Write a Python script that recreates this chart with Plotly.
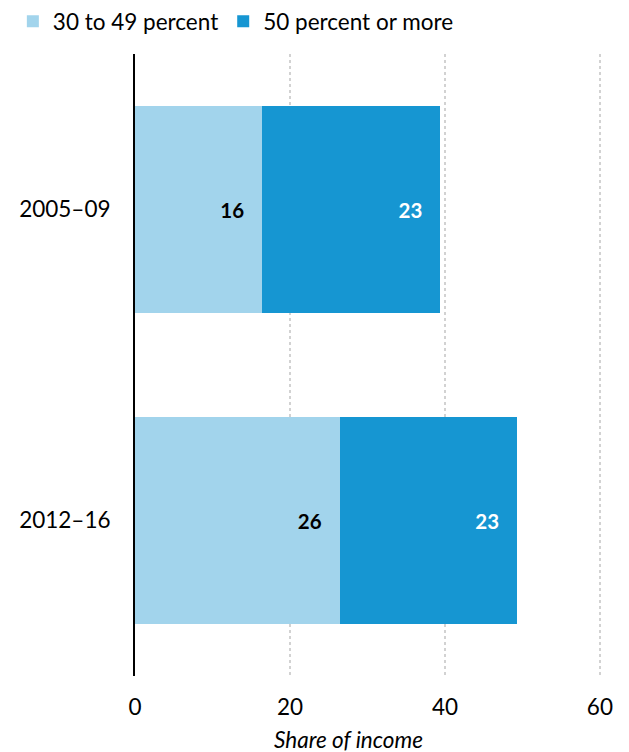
import plotly.graph_objects as go

categories = ["2005–09", "2012–16"]
series_names = ["30 to 49 percent", "50 percent or more"]
share_30_49 = [16.4, 26.4]
share_50_plus = [23.0, 22.9]
x_ticks = [0, 20, 40, 60]
x_title = "Share of income"

colors = ["#a2d4ec", "#1696d2"]
text_colors = ["#000000", "#ffffff"]
FONT = "Lato, 'Open Sans', sans-serif"
PAD = "\u00a0\u00a0\u00a0"

fig = go.Figure()
for name, vals, col, tcol in zip(series_names, [share_30_49, share_50_plus], colors, text_colors):
    fig.add_trace(go.Bar(
        y=categories, x=vals, name=name, orientation="h",
        marker=dict(color=col, line=dict(width=0)),
        text=[f"{v:.0f}{PAD}" for v in vals],
        textposition="inside", insidetextanchor="end",
        textfont=dict(family=FONT, size=20.5, color=tcol, weight="bold"),
        cliponaxis=False,
    ))

fig.update_layout(
    barmode="stack",
    bargap=0.333,
    width=621, height=744,
    margin=dict(l=127, r=26, t=46, b=75.5, autoexpand=False),
    paper_bgcolor="white", plot_bgcolor="white",
    font=dict(family=FONT, size=22, color="#000000"),
    uniformtext=dict(minsize=10, mode="show"),
    legend=dict(orientation="h", xref="paper", yref="paper",
                x=-0.261, y=1.052, xanchor="left", yanchor="middle",
                font=dict(size=22.5), itemwidth=30, tracegroupgap=0,
                traceorder="normal"),
    showlegend=True,
    annotations=[dict(text=f"<i>{x_title}</i>", xref="paper", yref="paper",
                      x=0.457, y=-0.102, xanchor="center", yanchor="middle",
                      showarrow=False, font=dict(size=22.5, family=FONT))],
)
fig.update_xaxes(
    range=[0, 60.4], tickvals=x_ticks, ticktext=[str(v) for v in x_ticks],
    showgrid=True, gridcolor="#d2d2d2", griddash="dot", gridwidth=2,
    zeroline=False, showline=False, ticks="", ticklabelstandoff=15,
    tickfont=dict(size=22.5),
)
fig.update_yaxes(
    categoryorder="array", categoryarray=categories, autorange="reversed",
    showline=True, linecolor="#000000", linewidth=2,
    showgrid=False, ticks="", ticklabelstandoff=18, tickfont=dict(size=22.5),
)

fig.write_html("out.html")
